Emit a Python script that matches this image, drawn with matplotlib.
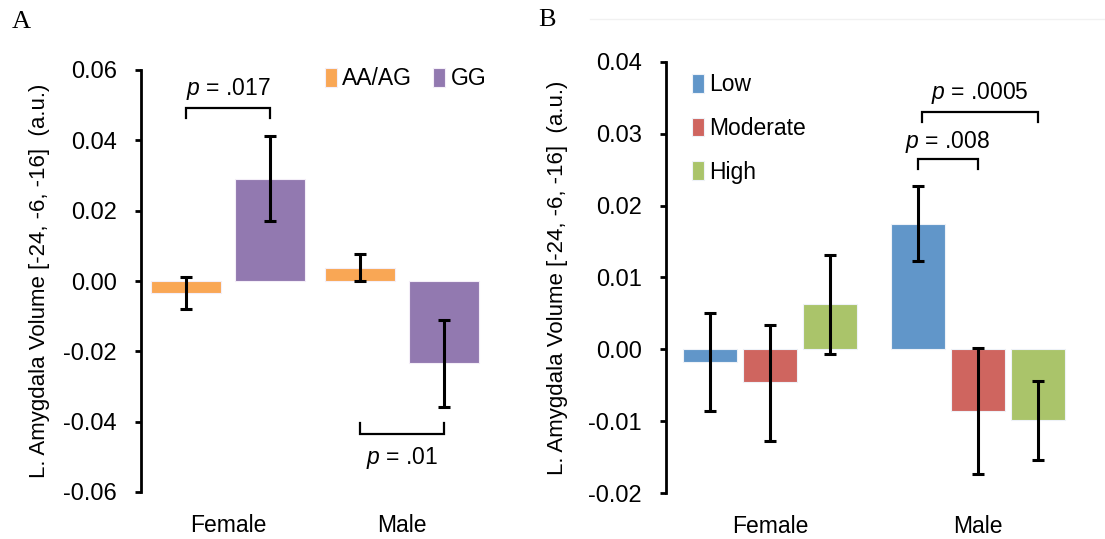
import matplotlib
matplotlib.use("Agg")
import matplotlib.pyplot as plt
import numpy as np

plt.rcParams["font.family"] = ["Liberation Sans", "DejaVu Sans"]
plt.rcParams["mathtext.fontset"] = "custom"
plt.rcParams["mathtext.it"] = "Liberation Sans:italic"
plt.rcParams["mathtext.rm"] = "Liberation Sans"

# Panel A: genotype groups
sexes = ["Female", "Male"]
genotypes = ["AA/AG", "GG"]
geno_means = {"AA/AG": [-0.0034, 0.0037], "GG": [0.0291, -0.0234]}
geno_lo = {"AA/AG": [-0.0080, 0.0000], "GG": [0.0170, -0.0359]}
geno_hi = {"AA/AG": [0.0010, 0.0078], "GG": [0.0412, -0.0112]}
geno_colors = {"AA/AG": "#F9A755", "GG": "#9279B0"}

# Panel B: exposure levels
levels = ["Low", "Moderate", "High"]
level_means = {"Low": [-0.0017, 0.0175], "Moderate": [-0.0046, -0.0086], "High": [0.0063, -0.0098]}
level_lo = {"Low": [-0.0086, 0.0123], "Moderate": [-0.0128, -0.0174], "High": [-0.0006, -0.0154]}
level_hi = {"Low": [0.0051, 0.0228], "Moderate": [0.0034, 0.0002], "High": [0.0132, -0.0044]}
level_colors = {"Low": "#6196C9", "Moderate": "#CF655F", "High": "#AAC46A"}

ylabel = "L. Amygdala Volume [-24, -6, -16]  (a.u.)"

W, H = 1105, 539
fig = plt.figure(figsize=(W / 100, H / 100), dpi=100)

FS_TICK = 17
FS_TEXT = 16.5


def px_axes(x0, y0, x1, y1):
    return fig.add_axes([x0 / W, 1 - y1 / H, (x1 - x0) / W, (y1 - y0) / H])


def style_axes(ax):
    for s in ("top", "right", "bottom"):
        ax.spines[s].set_visible(False)
    ax.spines["left"].set_linewidth(2.0)
    ax.tick_params(axis="y", direction="out", length=4.5, width=2.0, labelsize=FS_TICK, pad=13)
    ax.tick_params(axis="x", length=0, labelsize=FS_TEXT, pad=15.5)
    ax.set_xticks(range(len(sexes)))
    ax.set_xticklabels(sexes)
    ax.set_xlim(-0.5, 1.5)


def bracket(ax, x0, x1, y, drop, text, ty):
    ax.plot([x0, x0, x1, x1], [y + drop, y, y, y + drop], color="black", lw=1.6,
            solid_joinstyle="miter", clip_on=False)
    ax.text((x0 + x1) / 2, ty, text, ha="center", va="center", fontsize=FS_TEXT)


# ---- Panel A ----
axA = px_axes(141, 70, 489, 492)
x = np.arange(len(sexes))
wA, offA = 0.40, 0.24
for i, g in enumerate(genotypes):
    xi = x + (i - 0.5) * 2 * offA
    m = np.array(geno_means[g])
    err = np.vstack([m - np.array(geno_lo[g]), np.array(geno_hi[g]) - m])
    axA.bar(xi, m, width=wA, color=geno_colors[g], edgecolor="#f4eef8", linewidth=0.8,
            label=g, zorder=2)
    axA.errorbar(xi, m, yerr=err, fmt="none", ecolor="black", elinewidth=2.2,
                 capsize=4, capthick=2.2, zorder=3)
axA.set_ylim(-0.06, 0.06)
axA.set_yticks(np.arange(-0.06, 0.061, 0.02))
axA.set_yticklabels([f"{v:.2f}" for v in np.arange(-0.06, 0.061, 0.02)])
style_axes(axA)
axA.set_ylabel(ylabel, fontsize=16)
axA.yaxis.set_label_coords(-0.262, 0.5)
bracket(axA, -0.24, 0.24, 0.0493, -0.003, "$p$ = .017", 0.0546)
bracket(axA, 0.76, 1.24, -0.0434, 0.003, "$p$ = .01", -0.0502)
axA.legend(loc="upper right", ncol=2, frameon=False, fontsize=FS_TEXT, handlelength=0.52,
           handleheight=0.85, handletextpad=0.25, columnspacing=0.9,
           bbox_to_anchor=(1.019, 1.028), borderaxespad=0)

# ---- Panel B ----
axB = px_axes(666, 62, 1082, 493)
wB, offB = 0.26, 0.29
for i, lv in enumerate(levels):
    xi = x + (i - 1) * offB
    m = np.array(level_means[lv])
    err = np.vstack([m - np.array(level_lo[lv]), np.array(level_hi[lv]) - m])
    axB.bar(xi, m, width=wB, color=level_colors[lv], edgecolor="#eef2f8", linewidth=0.8,
            label=lv, zorder=2)
    axB.errorbar(xi, m, yerr=err, fmt="none", ecolor="black", elinewidth=2.2,
                 capsize=4, capthick=2.2, zorder=3)
axB.set_ylim(-0.02, 0.04)
axB.set_yticks(np.arange(-0.02, 0.041, 0.01))
axB.set_yticklabels([f"{v:.2f}" for v in np.arange(-0.02, 0.041, 0.01)])
style_axes(axB)
axB.set_ylabel(ylabel, fontsize=16)
axB.yaxis.set_label_coords(-0.236, 0.5)
bracket(axB, 1 - offB, 1.0, 0.0265, -0.0014, "$p$ = .008", 0.0288)
bracket(axB, 1 - offB + 0.02, 1 + offB, 0.0330, -0.0014, "$p$ = .0005", 0.0357)
axB.legend(loc="upper left", frameon=False, fontsize=FS_TEXT, handlelength=0.52,
           handleheight=0.85, handletextpad=0.25, labelspacing=0.9,
           bbox_to_anchor=(0.04, 0.995), borderaxespad=0)

# Faint rule above panel B
fig.add_artist(plt.Line2D([590 / W, 1.0], [1 - 19 / H, 1 - 19 / H], color="#f1f1f1", lw=1))

# Panel letters
fig.text(12 / W, 1 - 22 / H, "A", fontsize=19, family=["Liberation Serif"], va="center")
fig.text(538 / W, 1 - 20 / H, "B", fontsize=19, family=["Liberation Serif"], va="center")

fig.savefig("out.png", dpi=100, facecolor="white")
